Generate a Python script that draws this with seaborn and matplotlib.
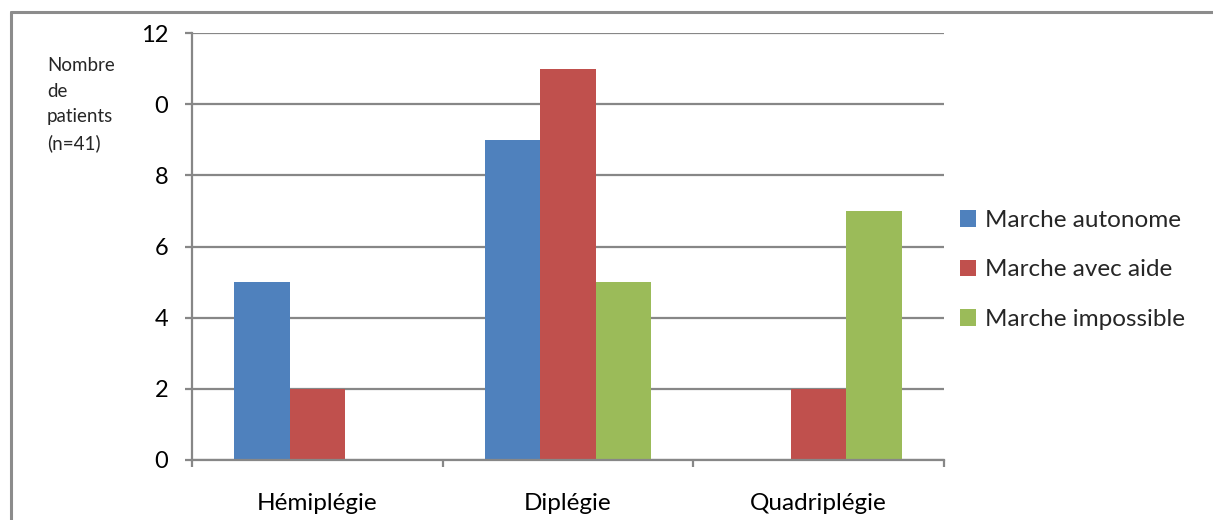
import matplotlib
matplotlib.use("Agg")
import matplotlib.pyplot as plt
import seaborn as sns
import pandas as pd
from matplotlib.patches import Patch
from matplotlib.lines import Line2D

# Data
categories = ["Hémiplégie", "Diplégie", "Quadriplégie"]
series = ["Marche autonome", "Marche avec aide", "Marche impossible"]
autonome = [5, 9, 0]
avec_aide = [2, 11, 2]
impossible = [0, 5, 7]
y_ticks = [0, 2, 4, 6, 8, 10, 12]
y_tick_labels = ["0", "2", "4", "6", "8", "0", "12"]
colors = ["#4F81BD", "#C0504D", "#9BBB59"]

rows = []
for s, vals in zip(series, [autonome, avec_aide, impossible]):
    for c, v in zip(categories, vals):
        rows.append({"type": c, "marche": s, "patients": v})
df = pd.DataFrame(rows)

sns.set_style("white")
plt.rcParams["font.family"] = ["Lato", "DejaVu Sans"]

W, H = 1213, 520
fig = plt.figure(figsize=(W / 100, H / 100), dpi=100)
ax = fig.add_axes([192 / W, 1 - 460 / H, (944 - 192) / W, (460 - 33) / H])

sns.barplot(data=df, x="type", y="patients", hue="marche", order=categories,
            hue_order=series, palette=colors, saturation=1, width=0.665,
            linewidth=0, legend=False, errorbar=None, ax=ax)

grid_c = "#878787"
ax.set_axisbelow(True)
ax.set_ylim(0, 12)
ax.set_xlim(-0.5, 2.5)
ax.set_yticks(y_ticks)
ax.set_yticklabels(y_tick_labels)
ax.yaxis.grid(True, color=grid_c, linewidth=1.6)
ax.xaxis.grid(False)
for side in ["top", "right"]:
    ax.spines[side].set_visible(False)
for side in ["left", "bottom"]:
    ax.spines[side].set_color(grid_c)
    ax.spines[side].set_linewidth(1.6)

ax.tick_params(axis="y", which="major", direction="out", length=5, width=1.6,
               color=grid_c, pad=12, labelsize=17, labelcolor="black", left=True)
ax.set_xticks([-0.5, 0.5, 1.5, 2.5], minor=True)
ax.tick_params(axis="x", which="minor", direction="out", length=5, width=1.6,
               color=grid_c, bottom=True)
ax.tick_params(axis="x", which="major", length=0, pad=24, labelsize=17.5,
               labelcolor="black")
ax.set_xlabel("")
ax.set_ylabel("")

fig.text(47 / W, 1 - 57 / H, "Nombre\nde\npatients\n(n=41)", ha="left", va="top",
         fontsize=13.5, linespacing=1.62)

handles = [Patch(facecolor=c, edgecolor="none") for c in colors]
fig.legend(handles, series, loc="center left", bbox_to_anchor=(938 / W, 1 - 270 / H),
           frameon=False, fontsize=17.5, handlelength=0.65, handleheight=0.65,
           handletextpad=0.4, labelspacing=1.17)

# Outer frame (top and left edges)
frame_c = "#8C8C8C"
fig.add_artist(Line2D([10.5 / W, 10.5 / W], [0, 1 - 12 / H], color=frame_c, linewidth=2.2,
                      transform=fig.transFigure))
fig.add_artist(Line2D([10.5 / W, 1], [1 - 12 / H, 1 - 12 / H], color=frame_c, linewidth=2.2,
                      transform=fig.transFigure))

fig.savefig("out.png", dpi=100)
